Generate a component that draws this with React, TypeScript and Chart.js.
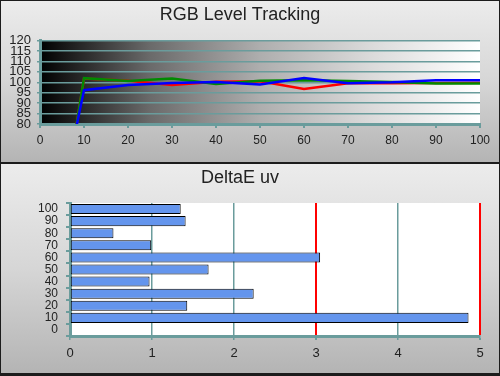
import React, { useEffect, useRef } from 'react';
import { Chart, registerables } from 'chart.js';

Chart.register(...registerables);

// ---- Data ----
const levels = [0, 10, 20, 30, 40, 50, 60, 70, 80, 90, 100];
const redLevels = [-30, 101.8, 100.8, 98.7, 100.3, 100.5, 96.8, 99.5, 99.5, 99.7, 99.8];
const greenLevels = [-30, 102.0, 100.6, 101.8, 99.2, 100.8, 101.0, 100.6, 100.2, 99.4, 99.4];
const blueLevels = [-5, 96.2, 98.7, 99.7, 100.2, 98.9, 102.1, 99.5, 100.0, 101.0, 101.0];

const deltaCategories = ['0', '10', '20', '30', '40', '50', '60', '70', '80', '90', '100'];
const deltaValues = [null, 4.86, 1.43, 2.24, 0.97, 1.69, 3.05, 0.99, 0.53, 1.41, 1.35];

const TEAL = '#6a9c9c';
const FONT = "'Liberation Sans', Arial, sans-serif";

const gradientBg = {
  id: 'gradientBg',
  beforeDraw(chart: any) {
    const { ctx, chartArea } = chart;
    if (!chartArea) return;
    const g = ctx.createLinearGradient(chartArea.left, 0, chartArea.right, 0);
    g.addColorStop(0, '#000000');
    g.addColorStop(0.25, '#6a6a6a');
    g.addColorStop(0.5, '#aeaeae');
    g.addColorStop(0.75, '#dadada');
    g.addColorStop(1, '#ffffff');
    ctx.save();
    ctx.fillStyle = g;
    ctx.fillRect(chartArea.left, chartArea.top, chartArea.right - chartArea.left, chartArea.bottom - chartArea.top);
    ctx.restore();
  },
};

const whiteBg = {
  id: 'whiteBg',
  beforeDraw(chart: any) {
    const { ctx, chartArea } = chart;
    if (!chartArea) return;
    ctx.save();
    ctx.fillStyle = '#ffffff';
    ctx.fillRect(chartArea.left, chartArea.top, chartArea.right - chartArea.left, chartArea.bottom - chartArea.top);
    ctx.restore();
  },
};

export default function App() {
  const topRef = useRef<HTMLCanvasElement>(null);
  const botRef = useRef<HTMLCanvasElement>(null);

  useEffect(() => {
    document.body.style.margin = '0';
    Chart.defaults.font.family = FONT;
    Chart.defaults.color = '#222';

    const toPts = (vals: number[]) => levels.map((x, i) => ({ x, y: vals[i] }));

    const top = new Chart(topRef.current!, {
      type: 'line',
      data: {
        datasets: [
          { label: 'Blue', data: toPts(blueLevels), borderColor: '#0000ff', borderWidth: 2.5, pointRadius: 0, tension: 0 },
          { label: 'Green', data: toPts(greenLevels), borderColor: '#008a00', borderWidth: 2.5, pointRadius: 0, tension: 0 },
          { label: 'Red', data: toPts(redLevels), borderColor: '#ff0000', borderWidth: 2.5, pointRadius: 0, tension: 0 },
        ],
      },
      options: {
        animation: false,
        responsive: false,
        maintainAspectRatio: false,
        layout: { padding: { left: 0, right: 20, top: 0, bottom: 0 } },
        plugins: {
          legend: { display: false },
          tooltip: { enabled: false },
          title: {
            display: true,
            text: 'RGB Level Tracking',
            font: { size: 18, weight: 'normal', family: FONT },
            color: '#222',
            padding: { top: 4, bottom: 15 },
          },
        },
        scales: {
          x: {
            type: 'linear',
            min: 0,
            max: 100,
            ticks: { stepSize: 10, font: { size: 12 }, padding: 5, color: '#222' },
            grid: { drawOnChartArea: false, drawTicks: true, tickLength: 4, color: TEAL, lineWidth: 2 },
            border: { display: true, color: TEAL, width: 3 },
            afterFit: (s: any) => { s.height = 38; },
          },
          y: {
            min: 80,
            max: 120,
            ticks: { stepSize: 5, autoSkip: false, font: { size: 13 }, padding: 6, color: '#222' },
            grid: { color: TEAL, lineWidth: 1.5, tickLength: 3 },
            border: { display: true, color: TEAL, width: 3 },
            afterFit: (s: any) => { s.width = 40; },
          },
        },
      } as any,
      plugins: [gradientBg],
    });

    const bot = new Chart(botRef.current!, {
      type: 'bar',
      data: {
        labels: deltaCategories,
        datasets: [
          {
            label: 'DeltaE uv',
            data: deltaValues as any,
            backgroundColor: '#6495ed',
            borderColor: '#000000',
            borderWidth: 1,
            borderSkipped: false,
            barPercentage: 0.83,
            categoryPercentage: 1,
          },
        ],
      },
      options: {
        indexAxis: 'y',
        animation: false,
        responsive: false,
        maintainAspectRatio: false,
        layout: { padding: { left: 0, right: 20, top: 0, bottom: 0 } },
        plugins: {
          legend: { display: false },
          tooltip: { enabled: false },
          title: {
            display: true,
            text: 'DeltaE uv',
            font: { size: 18, weight: 'normal', family: FONT },
            color: '#222',
            padding: { top: 4, bottom: 14.4 },
          },
        },
        scales: {
          x: {
            type: 'linear',
            min: 0,
            max: 5,
            ticks: { stepSize: 1, font: { size: 13 }, padding: 6, color: '#222' },
            grid: {
              drawOnChartArea: true,
              tickLength: 4,
              color: (c: any) => (c.tick && (c.tick.value === 3 || c.tick.value === 5) ? '#ff0000' : TEAL),
              lineWidth: (c: any) => (c.tick && (c.tick.value === 3 || c.tick.value === 5) ? 2 : 1.5),
              tickColor: TEAL,
            },
            border: { display: true, color: TEAL, width: 3 },
            afterFit: (s: any) => { s.height = 38; },
          },
          y: {
            reverse: true,
            ticks: { autoSkip: false, font: { size: 12 }, padding: 8, color: '#222' },
            grid: { drawOnChartArea: false, tickLength: 4, color: TEAL, lineWidth: 2, offset: true },
            border: { display: true, color: TEAL, width: 3 },
            afterFit: (s: any) => { s.width = 70; },
          },
        },
      } as any,
      plugins: [whiteBg],
    });

    return () => {
      top.destroy();
      bot.destroy();
    };
  }, []);

  const panelBg = 'linear-gradient(to bottom, #ececec 0%, #d6d6d6 50%, #b4b4b4 100%)';

  return (
    <div style={{ position: 'absolute', left: 0, top: 0, width: 500, height: 376, background: '#1c1c1c', overflow: 'hidden' }}>
      <div style={{ position: 'absolute', left: 1, top: 1, width: 498, height: 161, background: panelBg }} />
      <div style={{ position: 'absolute', left: 1, top: 164, width: 498, height: 209, background: panelBg }} />
      <canvas ref={topRef} width={500} height={162} style={{ position: 'absolute', left: 0, top: 0, width: 500, height: 162 }} />
      <canvas ref={botRef} width={500} height={211} style={{ position: 'absolute', left: 0, top: 163, width: 500, height: 211 }} />
    </div>
  );
}
